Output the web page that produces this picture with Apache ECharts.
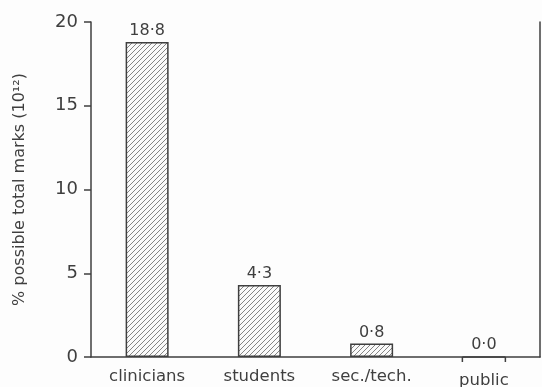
<!DOCTYPE html>
<html><head><meta charset="utf-8">
<script src="https://cdn.jsdelivr.net/npm/echarts@6/dist/echarts.min.js"></script>
<style>html,body{margin:0;padding:0;background:#fff}#c{width:542px;height:387px}</style>
</head><body><div id="c"></div>
<script>
const categories = ['clinicians', 'students', 'sec./tech.', 'public'];
const values = [18.8, 4.3, 0.8, 0.0];
const valueLabels = ['18·8', '4·3', '0·8', '0·0'];
const yTicks = [0, 5, 10, 15, 20];

const pc = document.createElement('canvas');
pc.width = 5; pc.height = 5;
const g = pc.getContext('2d');
g.fillStyle = '#fafafa'; g.fillRect(0,0,5,5);
g.strokeStyle = '#666'; g.lineWidth = 0.8;
g.beginPath();
g.moveTo(0,5); g.lineTo(5,0);
g.moveTo(-2.5,2.5); g.lineTo(2.5,-2.5);
g.moveTo(2.5,7.5); g.lineTo(7.5,2.5);
g.stroke();

const font = '"DejaVu Sans", sans-serif';
const ink = '#3f3f3f';
const chart = echarts.init(document.getElementById('c'));
chart.setOption({
  animation: false,
  backgroundColor: '#fdfdfd',
  grid: { left: 91, right: 2, top: 22, bottom: 30, containLabel: false, outerBoundsMode: 'none' },
  xAxis: {
    type: 'category',
    data: categories.map((c, i) => i === categories.length - 1 ? { value: c, textStyle: { padding: [4, 0, 0, 0] } } : c),
    axisLine: { lineStyle: { color: ink, width: 1.5 } },
    axisTick: { show: false },
    axisLabel: { interval: 0, hideOverlap: false, color: ink, fontFamily: font, fontSize: 16.5, margin: 11 }
  },
  yAxis: [{
    type: 'value', min: 0, max: 20, interval: 5,
    name: '% possible total marks (10\u00B9\u00B2)', nameLocation: 'middle', nameGap: 63,
    nameTextStyle: { color: ink, fontFamily: font, fontSize: 16 },
    axisLine: { show: true, lineStyle: { color: ink, width: 1.5 } },
    axisTick: { show: true, length: 7, lineStyle: { color: ink, width: 1.5 } },
    axisLabel: { color: ink, fontFamily: font, fontSize: 18, margin: 13,
      formatter: v => yTicks.includes(v) ? String(v) : '' },
    splitLine: { show: false }
  }, {
    type: 'value', min: 0, max: 20, interval: 5, position: 'right',
    axisLine: { show: true, lineStyle: { color: ink, width: 1.5 } },
    axisTick: { show: false }, axisLabel: { show: false }, splitLine: { show: false }
  }],
  series: [{
    type: 'bar', data: values, barWidth: 43,
    itemStyle: { color: { image: pc, repeat: 'repeat' }, borderColor: ink, borderWidth: 1.5 },
    label: { show: true, position: 'top', distance: 3, color: ink, fontFamily: font, fontSize: 16,
      formatter: p => valueLabels[p.dataIndex] }
  }, {
    type: 'custom', data: values.map((v, i) => [i, v]),
    renderItem: (params, api) => {
      if (api.value(1) !== 0) return null;
      const c = api.coord([api.value(0), 0]);
      const half = 21.5;
      return { type: 'group', children: [
        { type: 'line', shape: { x1: c[0]-half, y1: c[1], x2: c[0]-half, y2: c[1]+5 }, style: { stroke: ink, lineWidth: 1.5 } },
        { type: 'line', shape: { x1: c[0]+half, y1: c[1], x2: c[0]+half, y2: c[1]+5 }, style: { stroke: ink, lineWidth: 1.5 } }
      ]};
    }
  }]
});
</script></body></html>
